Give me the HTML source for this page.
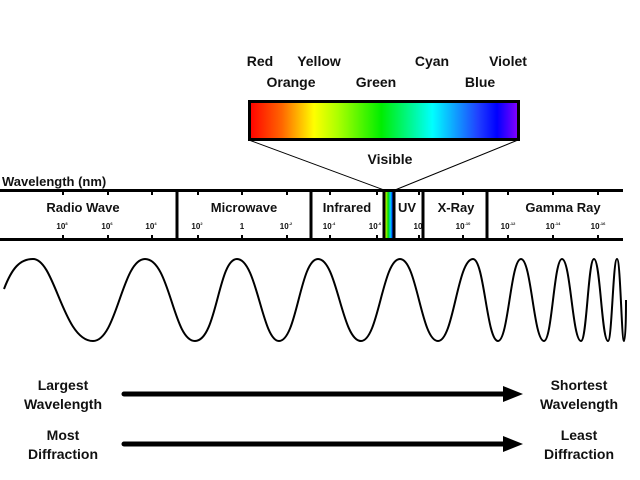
<!DOCTYPE html>
<html><head><style>
html,body{margin:0;padding:0;background:#fff;}
svg{display:block;}
text{font-family:"Liberation Sans",Arial,sans-serif;font-weight:bold;fill:#111;}
</style></head><body>
<svg width="640" height="480" viewBox="0 0 640 480" xmlns="http://www.w3.org/2000/svg">
<defs>
<linearGradient id="sp" x1="0" x2="1" y1="0" y2="0">
<stop offset="0" stop-color="#ff0000"/>
<stop offset="0.12" stop-color="#ff6600"/>
<stop offset="0.24" stop-color="#ffff00"/>
<stop offset="0.33" stop-color="#aaff00"/>
<stop offset="0.49" stop-color="#00ee00"/>
<stop offset="0.68" stop-color="#00ffff"/>
<stop offset="0.85" stop-color="#2040ff"/>
<stop offset="0.92" stop-color="#0000ff"/>
<stop offset="1" stop-color="#8800ff"/>
</linearGradient>
<linearGradient id="vs" x1="0" x2="1" y1="0" y2="0">
<stop offset="0" stop-color="#ffff00"/>
<stop offset="0.4" stop-color="#00dd00"/>
<stop offset="0.7" stop-color="#00ccff"/>
<stop offset="1" stop-color="#0000ff"/>
</linearGradient>
</defs>
<g font-size="14" text-anchor="middle">
<text x="260" y="66">Red</text>
<text x="319" y="66">Yellow</text>
<text x="432" y="66">Cyan</text>
<text x="508" y="66">Violet</text>
<text x="291" y="87">Orange</text>
<text x="376" y="87">Green</text>
<text x="480" y="87">Blue</text>
<text x="390" y="164">Visible</text>
</g>
<rect x="249.5" y="101.5" width="269" height="38" fill="url(#sp)" stroke="#000" stroke-width="3"/>
<line x1="249" y1="140" x2="384" y2="190" stroke="#000" stroke-width="1"/>
<line x1="518" y1="140" x2="395" y2="190" stroke="#000" stroke-width="1"/>
<text x="2" y="186" font-size="13">Wavelength (nm)</text>
<rect x="385" y="191" width="8" height="48" fill="url(#vs)"/>
<g stroke="#000" stroke-width="3">
<line x1="0" y1="190.5" x2="623" y2="190.5"/>
<line x1="0" y1="239.5" x2="623" y2="239.5"/>
<line x1="177" y1="190" x2="177" y2="240"/>
<line x1="311" y1="190" x2="311" y2="240"/>
<line x1="384" y1="190" x2="384" y2="240"/>
<line x1="394" y1="190" x2="394" y2="240"/>
<line x1="423" y1="190" x2="423" y2="240"/>
<line x1="487" y1="190" x2="487" y2="240"/>
</g>
<g stroke="#000" stroke-width="2">
<path d="M63 190v5M108 190v5M152 190v5M198 190v5M242 190v5M287 190v5M330 190v5M377 190v5M419 190v5M463 190v5M508 190v5M553 190v5M598 190v5"/>
<path d="M63 235v5M108 235v5M152 235v5M198 235v5M242 235v5M287 235v5M330 235v5M377 235v5M419 235v5M463 235v5M508 235v5M553 235v5M598 235v5"/>
</g>
<g font-size="13" text-anchor="middle">
<text x="83" y="212">Radio Wave</text>
<text x="244" y="212">Microwave</text>
<text x="347" y="212">Infrared</text>
<text x="407" y="212">UV</text>
<text x="456" y="212">X-Ray</text>
<text x="563" y="212">Gamma Ray</text>
</g>
<g font-size="8" text-anchor="middle">
<text x="62" y="229">10<tspan font-size="4" dy="-4">8</tspan></text>
<text x="107" y="229">10<tspan font-size="4" dy="-4">6</tspan></text>
<text x="151" y="229">10<tspan font-size="4" dy="-4">4</tspan></text>
<text x="197" y="229">10<tspan font-size="4" dy="-4">2</tspan></text>
<text x="242" y="229">1</text>
<text x="286" y="229">10<tspan font-size="4" dy="-4">-2</tspan></text>
<text x="329" y="229">10<tspan font-size="4" dy="-4">-4</tspan></text>
<text x="375" y="229">10<tspan font-size="4" dy="-4">-6</tspan></text>
<text x="418" y="229">10</text>
<text x="463" y="229">10<tspan font-size="4" dy="-4">-10</tspan></text>
<text x="508" y="229">10<tspan font-size="4" dy="-4">-12</tspan></text>
<text x="553" y="229">10<tspan font-size="4" dy="-4">-14</tspan></text>
<text x="598" y="229">10<tspan font-size="4" dy="-4">-16</tspan></text>
</g>
<path fill="none" stroke="#000" stroke-width="2" d="M4 289 C12 268 20 259 33 259
C55 259 63 341 93 341
C117 341 122 259 145 259
C170 259 173 341 195 341
C217 341 218 259 237 259
C257 259 262 341 279 341
C297 341 300 259 318 259
C337.35 259 341.65 341 361 341
C378.55 341 382.45 259 400 259
C417.1 259 420.9 341 438 341
C453.75 341 457.25 259 473 259
C484.25 259 486.75 341 498 341
C508.35 341 510.65 259 521 259
C531.35 259 533.65 341 544 341
C552.1 341 553.9 259 562 259
C570.55 259 572.45 341 581 341
C586.85 341 588.15 259 594 259
C600.3 259 601.7 341 608 341
C612 341 613 259 617 259
C620.5 259 621.5 341 624 341
C625.5 341 626 320 626 300"/>
<g stroke="#000" stroke-width="5" stroke-linecap="round">
<line x1="124" y1="394" x2="505" y2="394"/>
<line x1="124" y1="444" x2="505" y2="444"/>
</g>
<polygon points="503,386 523,394 503,402" fill="#000"/>
<polygon points="503,436 523,444 503,452" fill="#000"/>
<g font-size="14" text-anchor="middle">
<text x="63" y="390" fill="#333">Largest</text>
<text x="63" y="409" fill="#333">Wavelength</text>
<text x="63" y="440" fill="#333">Most</text>
<text x="63" y="459" fill="#333">Diffraction</text>
<text x="579" y="390" fill="#333">Shortest</text>
<text x="579" y="409" fill="#333">Wavelength</text>
<text x="579" y="440" fill="#333">Least</text>
<text x="579" y="459" fill="#333">Diffraction</text>
</g>
</svg>
</body></html>
